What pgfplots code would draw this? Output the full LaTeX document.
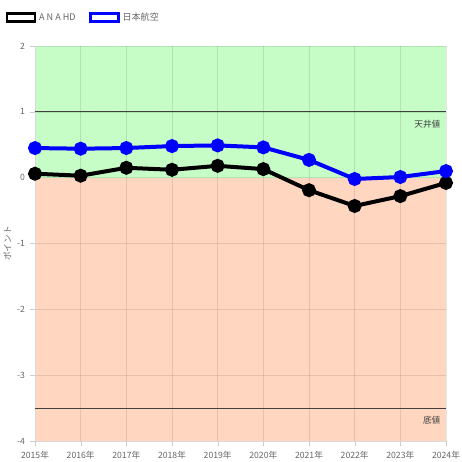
\documentclass[border=0pt]{standalone}
\usepackage{pgfplots}
\pgfplotsset{compat=1.18}
\usepackage{fontspec}
\setmainfont{Noto Sans CJK JP}
\definecolor{txt}{HTML}{666666}
\definecolor{upbg}{HTML}{C6FCC6}
\definecolor{dnbg}{HTML}{FFD6BF}
\definecolor{jal}{HTML}{0000FF}
\begin{document}
\begin{tikzpicture}[x=1pt,y=1pt]
\begin{axis}[
  set layers,
  at={(26.25pt,15.75pt)}, anchor=south west,
  scale only axis, width=308.25pt, height=296.25pt,
  xmin=0, xmax=9, ymin=-4, ymax=2,
  xtick={0,...,9},
  xticklabels={2015年,2016年,2017年,2018年,2019年,2020年,2021年,2022年,2023年,2024年},
  ytick={-4,-3,-2,-1,0,1,2},
  axis lines=left, axis line style={draw=gray!30,-},
  tick style={draw=gray!40}, tick align=outside, major tick length=4pt,
  grid=major, grid style={draw=black, opacity=0.1, line width=0.4pt},
  ticklabel style={font=\fontsize{6.5}{8}\selectfont, text=txt},
  /pgf/number format/assume math mode=true,
  ylabel={ポイント}, ylabel style={font=\fontsize{6.5}{8}\selectfont, text=txt, anchor=center, at={(-0.067,0.5)}},
  clip=false,
  legend style={at={(-0.082,1.097)}, anchor=north west, draw=none, fill=none,
    legend columns=2, font=\fontsize{6.8}{8}\selectfont, text=txt,
    /tikz/every even column/.append style={column sep=8pt}},
  legend image code/.code={\draw[line width=2.2pt,fill=white] (0pt,-2.4pt) rectangle (21pt,3.6pt);},
]
\begin{pgfonlayer}{axis background}
\fill[upbg] (axis cs:0,0) rectangle (axis cs:9,2);
\fill[dnbg] (axis cs:0,-4) rectangle (axis cs:9,0);
\end{pgfonlayer}
\draw[black!75, line width=0.6pt] (axis cs:0,1) -- (axis cs:9,1);
\draw[black!75, line width=0.6pt] (axis cs:0,-3.5) -- (axis cs:9,-3.5);
\node[anchor=north east, font=\fontsize{6.5}{8}\selectfont, text=black!75] at (axis cs:8.98,0.95) {天井値};
\node[anchor=north east, font=\fontsize{6.5}{8}\selectfont, text=black!75] at (axis cs:8.98,-3.55) {底値};
\addplot[black, line width=3pt, mark=*, mark size=3.7pt, mark options={solid}]
  coordinates {(0,0.06) (1,0.03) (2,0.15) (3,0.12) (4,0.18) (5,0.13) (6,-0.19) (7,-0.43) (8,-0.28) (9,-0.08)};
\addlegendentry{A N A HD}
\addplot[jal, line width=3pt, mark=*, mark size=3.7pt, mark options={solid}]
  coordinates {(0,0.45) (1,0.44) (2,0.45) (3,0.48) (4,0.49) (5,0.46) (6,0.27) (7,-0.02) (8,0.01) (9,0.10)};
\addlegendentry{日本航空}
\end{axis}
\pgfresetboundingbox
\useasboundingbox (0,0) rectangle (346.5,346.5);
\end{tikzpicture}
\end{document}
